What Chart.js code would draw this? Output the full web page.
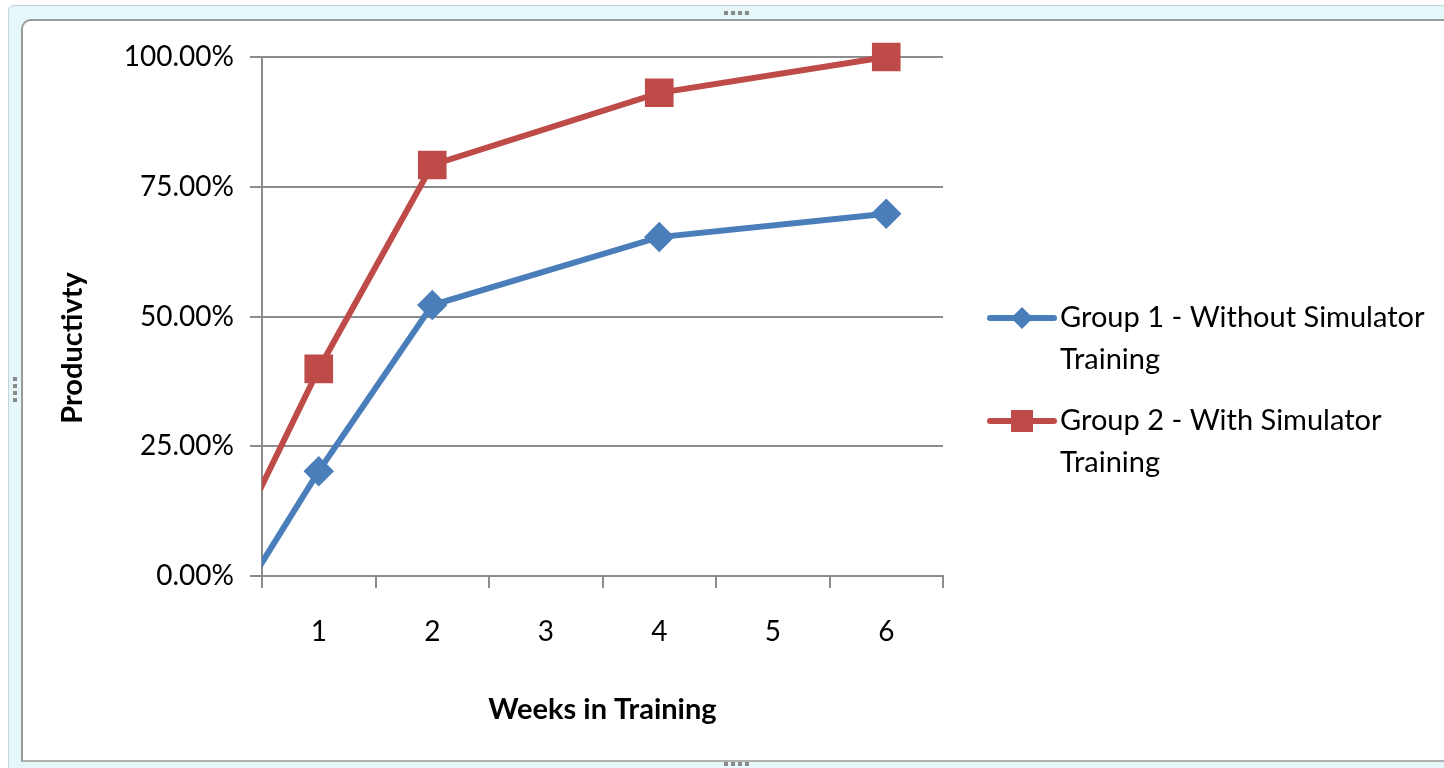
<!DOCTYPE html>
<html>
<head>
<meta charset="utf-8">
<script src="https://cdn.jsdelivr.net/npm/chart.js@4"></script>
<style>
  body { margin: 0; width: 1444px; height: 768px; overflow: hidden; background: #fff; }
  .frame { position: absolute; left: 8px; top: 5px; width: 1470px; height: 780px;
           background: #e6f7fa; border: 1px solid #c4d3d8; border-radius: 6px; }
  .inner { position: absolute; left: 21px; top: 19px; width: 1440px; height: 739px;
           background: #fff; border-left: 2px solid #9a9a9a; border-top: 2px solid #9a9a9a;
           border-bottom: 2px solid #b0b0b0; border-top-left-radius: 10px; }
  .dots { position: absolute; display: flex; gap: 3px; }
  .dots.col { flex-direction: column; }
  .dots span { width: 4px; height: 4px; background: #8a8a8a; display: block; }
  canvas { position: absolute; left: 0; top: 0; }
</style>
</head>
<body>
<div class="frame"></div>
<div class="inner"></div>
<div class="dots" style="left:724px;top:11px"><span></span><span></span><span></span><span></span></div>
<div class="dots" style="left:724px;top:762px"><span></span><span></span><span></span><span></span></div>
<div class="dots col" style="left:13px;top:377px"><span></span><span></span><span></span><span></span></div>
<canvas id="myChart" width="1444" height="768"></canvas>
<script>
// week 0 is off the visible axis; the lines run in from it and get clipped
var weeks = [0, 1, 2, 4, 6];
var group1 = [-15, 20.2, 52.2, 65.3, 69.8];
var group2 = [-5, 39.9, 79.2, 93.1, 100];
var weekLabels = ['1', '2', '3', '4', '5', '6'];
var yTicks = [0, 25, 50, 75, 100];

var FONT = 'Lato, "Open Sans", sans-serif';

function pts(ys) {
  return weeks.map(function (w, i) { return { x: w, y: ys[i] }; });
}

// legend + y title drawn by hand: Excel wraps the legend text, and its
// axis title sits a bit below the middle of the plot
var extras = {
  id: 'extras',
  afterDraw: function (chart) {
    var ctx = chart.ctx;
    var lines = [['Group 1 - Without Simulator', 'Training'], ['Group 2 - With Simulator', 'Training']];
    var x0 = chart.chartArea.right + 47;
    var y0 = 318;
    ctx.save();
    ctx.font = '29px ' + FONT;
    ctx.textBaseline = 'middle';
    chart.data.datasets.forEach(function (ds, i) {
      var y = y0 + i * 103;
      ctx.strokeStyle = ds.borderColor;
      ctx.lineWidth = 6;
      ctx.lineCap = 'round';
      ctx.beginPath();
      ctx.moveTo(x0, y);
      ctx.lineTo(x0 + 64, y);
      ctx.stroke();
      ctx.fillStyle = ds.backgroundColor;
      ctx.beginPath();
      if (ds.pointStyle === 'rectRot') {
        ctx.moveTo(x0 + 32, y - 11); ctx.lineTo(x0 + 43, y); ctx.lineTo(x0 + 32, y + 11); ctx.lineTo(x0 + 21, y);
      } else {
        ctx.rect(x0 + 21, y - 11, 22, 22);
      }
      ctx.fill();
      ctx.fillStyle = '#000';
      lines[i].forEach(function (t, k) { ctx.fillText(t, x0 + 70, y + k * 42); });
    });
    ctx.translate(73, 348);
    ctx.rotate(-Math.PI / 2);
    ctx.textAlign = 'center';
    ctx.font = 'bold 29px ' + FONT;
    ctx.fillText('Productivty', 0, 0);
    ctx.restore();
  }
};

var ctx = document.getElementById('myChart').getContext('2d');
var myChart = new Chart(ctx, {
  type: 'line',
  data: {
    datasets: [{
      label: 'Group 1 - Without Simulator Training',
      data: pts(group1),
      borderColor: '#4a7ebb',
      backgroundColor: '#4a7ebb',
      borderWidth: 6,
      pointStyle: 'rectRot',
      pointRadius: 11,
      pointHoverRadius: 11,
      clip: { left: 0, top: 20, right: 20, bottom: 0 }
    }, {
      label: 'Group 2 - With Simulator Training',
      data: pts(group2),
      borderColor: '#be4b48',
      backgroundColor: '#be4b48',
      borderWidth: 6,
      pointStyle: 'rect',
      pointRadius: 16,
      pointHoverRadius: 16,
      clip: { left: 0, top: 20, right: 20, bottom: 0 }
    }]
  },
  options: {
    responsive: false,
    animation: false,
    layout: { padding: { top: 57, right: 501, bottom: 0, left: 0 } },
    plugins: {
      legend: { display: false },
      tooltip: { enabled: false }
    },
    scales: {
      x: {
        type: 'linear',
        min: 0.5,
        max: 6.5,
        afterBuildTicks: function (scale) {
          var t = [];
          for (var v = 0.5; v <= 6.5; v += 0.5) t.push({ value: v });
          scale.ticks = t;
        },
        afterFit: function (scale) { scale.height = 192; },
        ticks: {
          autoSkip: false,
          maxRotation: 0,
          padding: 27,
          color: '#000',
          font: { family: FONT, size: 28 },
          callback: function (v) { return Number.isInteger(v) ? weekLabels[v - 1] : ''; }
        },
        grid: {
          drawOnChartArea: false,
          tickLength: 12,
          lineWidth: 2,
          tickColor: function (c) { return Number.isInteger(c.tick.value) ? 'rgba(0,0,0,0)' : '#8c8c8c'; }
        },
        border: { color: '#8c8c8c', width: 2 },
        title: {
          display: true,
          text: 'Weeks in Training',
          color: '#000',
          font: { family: FONT, size: 29, weight: 'bold' },
          padding: { top: 0, bottom: 41 }
        }
      },
      y: {
        min: 0,
        max: 100,
        afterBuildTicks: function (scale) {
          scale.ticks = yTicks.map(function (v) { return { value: v }; });
        },
        afterFit: function (scale) { scale.width = 262; },
        ticks: {
          padding: 16,
          color: '#000',
          font: { family: FONT, size: 28 },
          callback: function (v) { return v.toFixed(2) + '%'; }
        },
        grid: { color: '#8c8c8c', lineWidth: 2, tickLength: 12 },
        border: { color: '#8c8c8c', width: 2 }
      }
    }
  },
  plugins: [extras]
});
</script>
</body>
</html>
